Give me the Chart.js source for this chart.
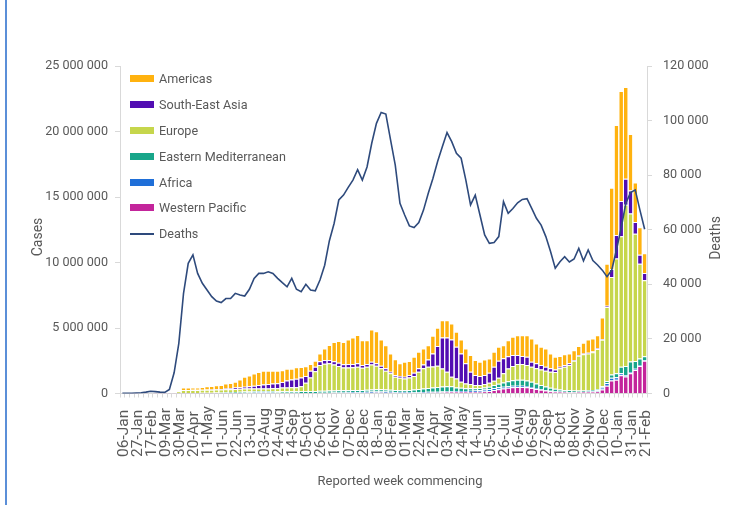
<!DOCTYPE html>
<html>
<head>
<meta charset="utf-8">
<script src="https://cdn.jsdelivr.net/npm/chart.js@4.4.1/dist/chart.umd.min.js"></script>
<style>
  html, body { margin:0; padding:0; background:#fff; }
  #wrap { position:relative; width:752px; height:505px; overflow:hidden; font-family:Roboto, "Open Sans", sans-serif; }
  #frame { position:absolute; left:5px; top:0; width:2px; height:505px; background:#5b8fd8; }
  canvas { position:absolute; left:0; top:0; }
  #legend { position:absolute; left:130px; top:66px; }
  .row { height:25.8px; display:flex; align-items:center; font-size:12.6px; color:#595959; }
  .sw { width:24px; height:7px; margin-right:5px; }
  .ln { width:24px; height:2px; margin-right:5px; background:#2E4A7C; }
</style>
</head>
<body>
<div id="wrap">
  <canvas id="c" width="752" height="505"></canvas>
  <div id="frame"></div>
  <div id="legend"></div>
</div>
<script>
// Week commencing labels (112 weeks)
const weeks = [
"06-Jan","13-Jan","20-Jan","27-Jan","03-Feb","10-Feb","17-Feb","24-Feb","02-Mar","09-Mar","16-Mar","23-Mar",
"30-Mar","06-Apr","13-Apr","20-Apr","27-Apr","04-May","11-May","18-May","25-May","01-Jun","08-Jun","15-Jun",
"22-Jun","29-Jun","06-Jul","13-Jul","20-Jul","27-Jul","03-Aug","10-Aug","17-Aug","24-Aug","31-Aug","07-Sep",
"14-Sep","21-Sep","28-Sep","05-Oct","12-Oct","19-Oct","26-Oct","02-Nov","09-Nov","16-Nov","23-Nov","30-Nov",
"07-Dec","14-Dec","21-Dec","28-Dec","04-Jan","11-Jan","18-Jan","25-Jan","01-Feb","08-Feb","15-Feb","22-Feb",
"01-Mar","08-Mar","15-Mar","22-Mar","29-Mar","05-Apr","12-Apr","19-Apr","26-Apr","03-May","10-May","17-May",
"24-May","31-May","07-Jun","14-Jun","21-Jun","28-Jun","05-Jul","12-Jul","19-Jul","26-Jul","02-Aug","09-Aug",
"16-Aug","23-Aug","30-Aug","06-Sep","13-Sep","20-Sep","27-Sep","04-Oct","11-Oct","18-Oct","25-Oct","01-Nov",
"08-Nov","15-Nov","22-Nov","29-Nov","06-Dec","13-Dec","20-Dec","27-Dec","03-Jan","10-Jan","17-Jan","24-Jan",
"31-Jan","07-Feb","14-Feb","21-Feb"];

// Weekly cases by region, thousands
const westernPacific = [0,0,1,5,15,25,15,5,5,3,3,5,
5,8,8,8,8,6,5,5,5,5,6,6,7,8,10,12,15,18,20,20,18,15,14,13,12,12,12,12,14,15,18,20,22,25,30,35,40,45,50,55,60,
65,70,70,65,60,50,45,45,45,50,55,60,65,70,80,90,100,110,120,120,120,120,120,130,150,180,
260,320,380,430,480,500,500,480,420,350,280,220,170,130,110,100,90,90,100,110,120,130,150,
300,600,1000,1050,1400,1300,1550,1800,2100,2500];
const africa = [0,0,0,0,0,0,0,0,0,0,0,0,
2,5,5,6,7,8,10,12,15,18,22,28,35,42,50,60,70,75,75,70,65,55,50,45,40,38,35,32,30,32,35,38,40,42,45,48,50,55,60,65,70,
80,85,90,85,75,65,55,50,50,50,55,55,60,60,60,60,55,55,60,70,80,95,110,130,150,160,
160,150,140,120,110,100,95,90,80,70,60,55,45,40,35,30,30,30,30,30,35,50,90,
150,200,200,200,150,100,100,80,70,50];
const easternMediterranean = [0,0,0,0,0,0,0,0,0,0,0,0,
15,25,25,28,30,35,40,45,50,55,60,68,75,80,85,90,95,95,95,95,100,105,110,115,118,120,125,130,140,145,150,155,160,165,170,170,165,160,155,150,150,
160,165,160,155,150,150,150,160,180,200,230,270,300,330,360,380,400,380,280,240,210,190,170,160,165,180,
230,270,320,380,430,450,450,430,390,350,300,260,220,190,160,140,125,110,100,95,95,95,100,
100,150,250,300,500,700,800,600,500,300];
const europe = [0,0,0,0,0,0,0,0,0,0,0,0,
158,232,232,228,225,231,230,228,230,222,232,218,223,230,235,218,210,202,200,205,217,235,276,287,300,310,378,646,1046,1508,1967,2057,2078,1988,1845,1737,1735,1740,1775,1700,1760,
1915,1800,1600,1435,1255,1015,960,895,955,1030,1320,1535,1615,1600,1620,1370,1105,735,690,470,360,315,250,230,255,300,
330,460,710,970,1080,1200,1205,1170,1150,1150,1200,1205,1225,1290,1615,1770,1925,2270,2650,2765,2810,2875,3060,
3550,5650,7450,8750,9950,12300,11300,9720,7230,5800];
const southEastAsia = [0,0,0,0,0,0,0,0,0,0,0,0,
0,5,5,8,10,12,15,20,30,45,70,85,110,120,140,180,210,250,290,330,360,370,430,540,600,640,670,510,510,350,300,280,250,250,260,250,260,250,260,200,210,
200,180,200,180,120,130,120,130,180,260,260,300,560,1000,1500,2380,2620,2840,2420,2160,1530,940,760,680,690,770,
1060,1300,1150,950,830,680,610,630,380,380,330,300,260,190,120,130,130,50,50,60,50,50,50,
50,100,600,1800,2700,2000,1750,900,700,550];
const americas = [0,0,0,0,0,0,0,0,0,0,0,0,
0,185,185,182,180,208,260,270,300,305,370,405,440,590,750,810,920,1010,1050,1010,970,950,900,880,810,880,810,750,510,450,580,880,1150,1470,1650,1700,1870,2020,2170,1900,1820,
2470,2460,2000,1760,1390,1210,970,1150,1070,1220,1270,1210,1080,1350,1400,1320,1320,1220,1140,1060,1140,1270,1140,1090,1190,1090,
1150,1070,990,1220,1400,1520,1590,1650,1780,1520,1400,1400,1140,960,820,830,760,760,690,810,1010,1000,1000,
1650,3200,6200,8400,8400,7000,4300,3000,2100,1500];

// Weekly deaths, thousands
const deaths = [0.1,0.1,0.1,0.2,0.3,0.5,0.8,0.7,0.5,0.4,1.5,7.6,18.4,36.7,47.7,50.8,44,40.4,37.9,35.5,33.9,33.3,34.8,34.8,
36.7,36.1,35.7,38.2,42.2,44,44,44.6,44,42.2,40.6,39.1,42.2,38.2,37.3,40,37.9,37.6,41.6,47,56,62.3,70.9,72.7,75.5,78.2,
82,78.2,83,91.7,99,103,102.4,92.9,83.7,69.7,65.4,61.4,60.8,62.6,67.2,73.3,78.8,85,90.4,95.6,92.3,88,86.2,78.2,69.1,
72.7,65.4,58.1,55,55.3,57.5,70.3,66,67.8,69.9,71.1,71.4,67.8,64.2,61.7,57.5,52,45.9,48.3,50.1,48.2,49.3,53.2,48.6,
52.6,48.7,47.1,45.2,42.8,45.2,52.6,60.5,69.7,73.6,74.6,67.2,60.2];

const series = [
  { name:"Western Pacific", data:westernPacific, color:"#C3259B" },
  { name:"Africa", data:africa, color:"#1F6FD8" },
  { name:"Eastern Mediterranean", data:easternMediterranean, color:"#18A68A" },
  { name:"Europe", data:europe, color:"#C6D64C" },
  { name:"South-East Asia", data:southEastAsia, color:"#520DB2" },
  { name:"Americas", data:americas, color:"#FFB20F" }
];
const lineColor = "#2E4A7C";

const fmt = v => String(Math.round(v)).replace(/\B(?=(\d{3})+(?!\d))/g, " ");
const tickFont = { family:"Roboto", size:12.6 };
const grey = "#595959";
const axisGrey = "#d9d9d9";

const datasets = [{
  type:"line", label:"Deaths", data:deaths.map(v => v*1000), yAxisID:"y1",
  borderColor:lineColor, borderWidth:1.6, pointRadius:0, tension:0, order:0, fill:false
}];
series.forEach(s => datasets.push({
  type:"bar", label:s.name, data:s.data.map(v => v*1000), backgroundColor:s.color,
  borderColor:"#ffffff", borderWidth:{top:1, left:0, right:0, bottom:0}, borderSkipped:false,
  yAxisID:"y", stack:"cases", order:1, categoryPercentage:1.0, barPercentage:0.78
}));

// Axis titles and bottom-aligned rotated week labels
const texts = {
  id:"texts",
  afterDraw(chart) {
    const c = chart.ctx;
    const xs = chart.scales.x;
    c.save();
    c.fillStyle = grey;
    c.font = "15.5px Roboto";
    c.textAlign = "left"; c.textBaseline = "middle";
    weeks.forEach((w, i) => {
      if (i % 3 !== 0) return;
      const x = xs.getPixelForValue(i) + 1.5;
      c.save(); c.translate(x, 457); c.rotate(-Math.PI/2); c.fillText(w, 0, 0); c.restore();
    });
    c.font = "13px Roboto";
    c.textAlign = "center";
    c.fillText("Reported week commencing", 400, 482);
    c.font = "14px Roboto";
    c.save(); c.translate(38, 237); c.rotate(-Math.PI/2); c.fillText("Cases", 0, 0); c.restore();
    c.save(); c.translate(716, 238); c.rotate(-Math.PI/2); c.fillText("Deaths", 0, 0); c.restore();
    c.restore();
  }
};

new Chart(document.getElementById("c"), {
  data:{ labels:weeks, datasets },
  options:{
    responsive:false, animation:false,
    layout:{ padding:{ top:66, left:0, right:0, bottom:0 } },
    plugins:{ legend:{ display:false }, tooltip:{ enabled:false } },
    scales:{
      x:{
        stacked:true,
        grid:{ display:true, drawOnChartArea:false, tickLength:4, color:axisGrey },
        border:{ color:axisGrey },
        ticks:{ autoSkip:false, minRotation:0, maxRotation:0, callback:() => "" },
        afterFit:s => { s.height = 111.5; }
      },
      y:{
        stacked:true, position:"left", min:0, max:25000000,
        grid:{ drawOnChartArea:false, tickLength:5, color:axisGrey },
        border:{ color:axisGrey },
        ticks:{ stepSize:5000000, callback:v => fmt(v), color:grey, font:tickFont, padding:7 },
        afterFit:s => { s.width = 120; }
      },
      y1:{
        position:"right", min:0, max:120000,
        grid:{ drawOnChartArea:false, tickLength:5, color:axisGrey },
        border:{ color:axisGrey },
        ticks:{ stepSize:20000, callback:v => fmt(v), color:grey, font:tickFont, padding:11 },
        afterFit:s => { s.width = 105; }
      }
    }
  },
  plugins:[texts]
});

// Legend (top-down: Americas first)
const lg = document.getElementById("legend");
[...series].reverse().forEach(s => {
  const r = document.createElement("div"); r.className = "row";
  r.innerHTML = '<span class="sw" style="background:' + s.color + '"></span>' + s.name;
  lg.appendChild(r);
});
const r = document.createElement("div"); r.className = "row";
r.innerHTML = '<span class="ln"></span>Deaths';
lg.appendChild(r);
</script>
</body>
</html>
